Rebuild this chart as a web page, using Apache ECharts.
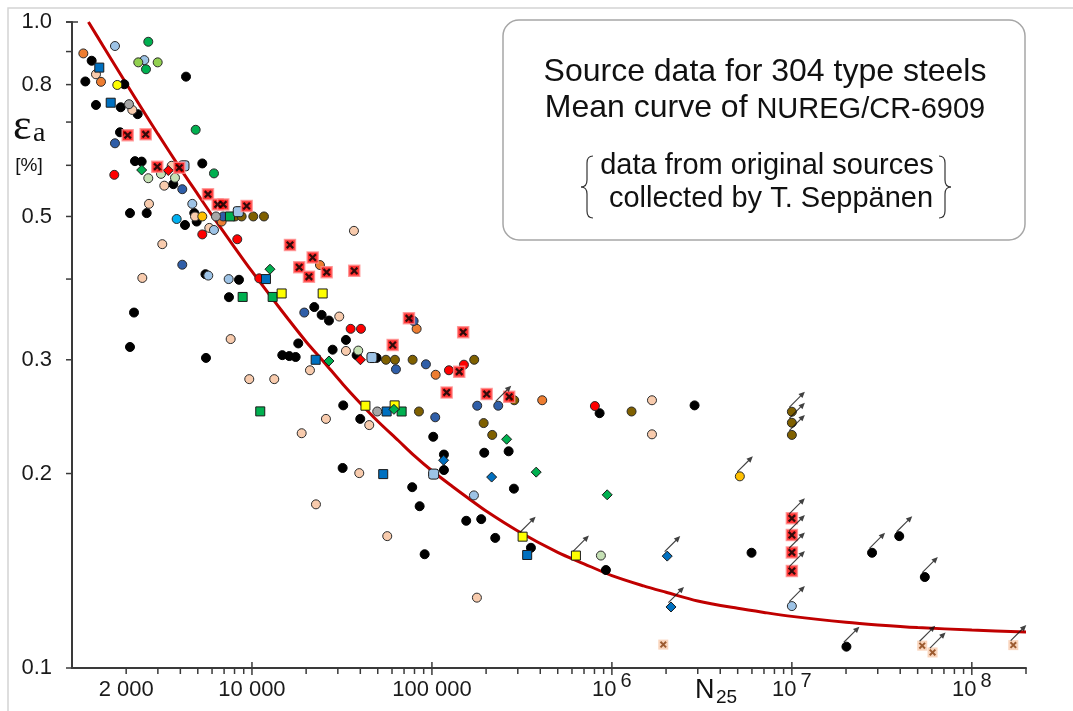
<!DOCTYPE html>
<html>
<head>
<meta charset="UTF-8">
<title>304 type steels - strain vs cycles</title>
<script src="https://cdn.jsdelivr.net/npm/echarts@6/dist/echarts.min.js"></script>
<style>html,body{margin:0;padding:0;background:#fff;}</style>
</head>
<body>
<div id="container" style="width:1073px;height:711px;"></div>
<script>
// [N25, strain amplitude %, runout flag]
var black = [[1286,0.871],[1186,0.809],[1952,0.801],[4300,0.823],[1359,0.744],[1865,0.738],[2317,0.720],[1848,0.675],
    [2239,0.609],[2439,0.608],[5296,0.604],[3655,0.561],[2100,0.506],[2600,0.506],[4245,0.485],[4780,0.506],[4930,0.491],
    [5517,0.407],[8470,0.399],[2211,0.355],[7450,0.375],[2100,0.314],[5552,0.302],[22190,0.362],[24390,0.352],[26780,0.345],
    [18080,0.318],[28070,0.311],[33280,0.322],[38170,0.305],[49290,0.302],[14740,0.305],[16120,0.304],[17490,0.303],
    [32150,0.255],[39970,0.243],[101700,0.228],[854500,0.248],[2880000,0.255],[116600,0.214],[116600,0.2025],[31900,0.204],
    [77700,0.1905],[85450,0.178],[91100,0.150],[155100,0.169],[187900,0.170],[224800,0.159],[285500,0.1895],[195300,0.2154],
    [266800,0.2165],[354800,0.1535],[926400,0.1418],[5970000,0.1508],
    [20100000,0.1079,1],[27900000,0.1508,1],[39500000,0.160,1],[54800000,0.1383,1]];
var peach = [[1359,0.830],[2163,0.731],[3257,0.558],[3580,0.599],[2678,0.523],[4825,0.500],[5792,0.480],[3175,0.453],
    [2459,0.4016],[7614,0.323],[9660,0.280],[36870,0.475],[30550,0.350],[33280,0.3096],[21000,0.289],[13300,0.280],
    [25770,0.243],[18890,0.2309],[44840,0.2377],[39460,0.2003],[22680,0.1792],[56450,0.160],[177800,0.1285],
    [1670000,0.2597],[1670000,0.230]];
var orange = [[1156,0.894],[1449,0.808],[6785,0.491],[23870,0.4205],[82220,0.335],[104900,0.2844],[410000,0.2597]];
var lightBlue = [[1733,0.918],[2522,0.873],[4660,0.523],[6151,0.4765],[5718,0.405],[7422,0.400],[171100,0.185],[10000000,0.1247,1]];
var darkBlue = [[1733,0.649],[4100,0.551],[4100,0.421],[19530,0.355],[63100,0.290],[79100,0.3445],[92600,0.2952],
    [104300,0.2444],[178500,0.2547],[233600,0.2547,1],[6926,0.500]];
var cyan = [[3816,0.4955]];
var red = [[1718,0.580],[5296,0.469],[8286,0.461],[10980,0.401],[35350,0.335],[40330,0.335],[124300,0.289],[150600,0.2948],[804500,0.2544]];
var yellow = [[1785,0.799]];
var gold = [[5296,0.500],[5140000,0.198,1]];
var green = [[2654,0.932],[2577,0.845],[4867,0.681],[6151,0.583]];
var lightGreen = [[2335,0.866],[2993,0.866]];
var paleGreen = [[2654,0.573],[3122,0.582],[3735,0.574],[38960,0.310],[868800,0.1493]];
var gray = [[2073,0.746],[6310,0.500],[49670,0.2495]];
var brown = [[8045,0.5],[8765,0.5],[10170,0.5],[11660,0.5],[55520,0.3],[62300,0.3],[78100,0.3],[171800,0.3],
    [286600,0.2597],[84700,0.2495],[193800,0.2394],[216300,0.2295],[1286000,0.2495],
    [10000000,0.2493,1],[10000000,0.2397,1],[10000000,0.2295,1]];
var blueSq = [[1418,0.850],[1641,0.750],[11960,0.400],[22590,0.300],[56020,0.2495],[53630,0.1996],[338300,0.1496]];
var greenSq = [[7546,0.5],[8877,0.3753],[13030,0.3753],[11120,0.2496],[67870,0.2495]];
var yellowSq = [[14620,0.380],[24710,0.380],[42710,0.2547],[62050,0.255],[319100,0.1597,1],[631000,0.1493,1]];
var lightBlueSq = [[4190,0.599],[8393,0.5086],[46420,0.3024],[102200,0.1996]];
var redCross = [[2039,0.668],[2567,0.670],[2978,0.597],[3946,0.595],[5695,0.541],[6449,0.522],[6926,0.522],[9345,0.519],
    [16260,0.4517],[21740,0.432],[18310,0.4172],[20730,0.4035],[26000,0.410],[37010,0.412],[60500,0.3162],[74500,0.3478],
    [149200,0.331],[141800,0.2875],[120700,0.267],[201400,0.2655],[268800,0.263],
    [10000000,0.1705,1],[10000000,0.1606,1],[10000000,0.151,1],[10000000,0.1413,1]];
var greenDia = [[2439,0.590],[12590,0.4143],[26780,0.2987],[61500,0.2514],[260000,0.226],[379700,0.201],[941700,0.1854]];
var blueDia = [[116100,0.2097],[214700,0.1975],[2030000,0.149,1],[2130000,0.1243,1]];
var redDia = [[3428,0.589],[40070,0.300]];
var peachCross = [[1930000,0.1087],[53000000,0.1083,1],[60500000,0.1057,1],[170000000,0.1085,1]];

// NUREG/CR-6909 mean curve
var curveN = [1234,1500,2000,2500,3000,4000,5000,6000,8000,10000,13000,16000,20000,25000,32000,40000,50000,65000,80000,
    100000,130000,160000,200000,300000,500000,700000,1000000,1500000,2000000,3000000,5000000,7000000,
    10000000,20000000,30000000,50000000,100000000,200000000];
var curveE = [1.0,0.915,0.803,0.727,0.671,0.593,0.541,0.502,0.448,0.411,0.373,0.346,0.320,0.298,0.275,0.257,0.241,0.225,0.213,
    0.202,0.191,0.183,0.175,0.163,0.151,0.145,0.139,0.134,0.131,0.127,0.1237,0.1219,
    0.1202,0.1177,0.1166,0.1155,0.1145,0.1137];

// axis ticks / labels
var xLabelValues = [2000, 10000, 100000, 1000000, 10000000, 100000000];
var xLabelTexts = ['{n|2 000}', '{n|10 000}', '{n|100 000}', '{b|10}{s|6}', '{b|10}{s|7}', '{b|10}{s|8}'];
var xMajorValues = [10000, 100000, 1000000, 10000000, 100000000];
var yTickValues = [0.1, 0.2, 0.3, 0.4, 0.5, 0.6, 0.7, 0.8, 0.9, 1.0];
var yLabelValues = [0.1, 0.2, 0.3, 0.5, 0.8, 1.0];

var xMinorValues = [];
for (var p = 1000; p < 2e8; p *= 10) {
    for (var k = 2; k < 10; k++) {
        if (p * k <= 2e8) xMinorValues.push(p * k);
    }
}

var FONT = '"Liberation Sans", Arial, sans-serif';
var AX = '#3a3a3a';
var X_MIN = 1000, X_MAX = 200000000, Y_MIN = 0.1, Y_MAX = 1.0;

function dots(data, color, symbol, size, border) {
    return {
        type: 'scatter', data: data, symbol: symbol || 'circle', symbolSize: size || 9, z: 3, silent: true,
        itemStyle: { color: color, borderColor: border || '#2a2a2a', borderWidth: 1, opacity: 1 }
    };
}

// tick marks drawn through the log axes (own layer so nothing hides them)
function tickSeries(values, before, after, onX) {
    return {
        type: 'custom', clip: false, z: 50, zlevel: 1, silent: true,
        data: values.map(function (v) { return onX ? [v, 0.5] : [2000, v]; }),
        renderItem: function (params, api) {
            var v = onX ? api.value(0) : api.value(1);
            var c = onX ? api.coord([v, Y_MIN]) : api.coord([X_MIN, v]);
            var shape = onX
                ? { x1: c[0], y1: c[1] - before, x2: c[0], y2: c[1] + after }
                : { x1: c[0] - after, y1: c[1], x2: c[0] + before, y2: c[1] };
            return { type: 'line', shape: shape, style: { stroke: AX, lineWidth: 1.5 } };
        }
    };
}

// curly brace made of quadratic curves; dir = 1 points left, -1 points right
function brace(x, top, bottom, dir) {
    var mid = (top + bottom) / 2, w = 6 * dir, st = { stroke: '#333', lineWidth: 1.2, fill: 'none' };
    var xs = x - w, xt = x - 2 * w;
    return [
        { type: 'bezierCurve', z: 10, shape: { x1: x, y1: top, cpx1: xs, cpy1: top, x2: xs, y2: top + 7 }, style: st },
        { type: 'line', z: 10, shape: { x1: xs, y1: top + 7, x2: xs, y2: mid - 7 }, style: st },
        { type: 'bezierCurve', z: 10, shape: { x1: xs, y1: mid - 7, cpx1: xs, cpy1: mid, x2: xt, y2: mid }, style: st },
        { type: 'bezierCurve', z: 10, shape: { x1: xt, y1: mid, cpx1: xs, cpy1: mid, x2: xs, y2: mid + 7 }, style: st },
        { type: 'line', z: 10, shape: { x1: xs, y1: mid + 7, x2: xs, y2: bottom - 7 }, style: st },
        { type: 'bezierCurve', z: 10, shape: { x1: xs, y1: bottom - 7, cpx1: xs, cpy1: bottom, x2: x, y2: bottom }, style: st }
    ];
}

var groups = [black, peach, orange, lightBlue, darkBlue, cyan, red, yellow, gold, green, lightGreen, paleGreen, gray,
    brown, blueSq, greenSq, yellowSq, lightBlueSq, redCross, greenDia, blueDia, redDia, peachCross];
var runouts = [];
groups.forEach(function (g) {
    g.forEach(function (pt) { if (pt[2] === 1) runouts.push([pt[0], pt[1]]); });
});

var curve = curveN.map(function (n, i) { return [n, curveE[i]]; });

var crossPath = 'path://M0,2 L2,0 L10,8 L8,10 Z M8,0 L10,2 L2,10 L0,8 Z';
var arrowPath = 'path://M0,19 L14,5 L12,3 L20,0 L17,8 L15,6 L1,20 Z';

var mycharts = echarts.init(document.getElementById('container'));

var graphics = [
    { type: 'polyline', shape: { points: [[8, 711], [8, 8], [1073, 8]] }, style: { fill: 'none', stroke: '#d4d4d4', lineWidth: 1.5 }, silent: true },
    { type: 'rect', shape: { x: 503, y: 20, width: 522, height: 220, r: 16 }, style: { fill: '#fff', stroke: '#a6a6a6', lineWidth: 1.5 }, z: 1, silent: true },
    { type: 'text', x: 765, y: 72, z: 10, style: { text: 'Source data for 304 type steels', fontSize: 32, fontFamily: FONT, fill: '#111', align: 'center', verticalAlign: 'middle' } },
    { type: 'text', x: 765, y: 108, z: 10, style: {
        text: '{a|Mean curve of }{b|NUREG/CR-6909}', align: 'center', verticalAlign: 'middle',
        rich: {
            a: { fontSize: 32, fontFamily: FONT, fill: '#111', verticalAlign: 'bottom' },
            b: { fontSize: 29, fontFamily: FONT, fill: '#111', verticalAlign: 'bottom' }
        } } },
    { type: 'text', x: 767, y: 166, z: 10, style: { text: 'data from original sources', fontSize: 29, fontFamily: FONT, fill: '#111', align: 'center', verticalAlign: 'middle' } },
    { type: 'text', x: 771, y: 199, z: 10, style: { text: 'collected by T. Seppänen', fontSize: 29, fontFamily: FONT, fill: '#111', align: 'center', verticalAlign: 'middle' } },
    { type: 'text', x: 13, y: 127, z: 10, style: { text: 'ε', fontSize: 44, fontFamily: '"Liberation Serif", "Times New Roman", serif', fill: '#111', align: 'left', verticalAlign: 'middle' } },
    { type: 'text', x: 33, y: 134, z: 10, style: { text: 'a', fontSize: 28, fontFamily: '"Liberation Serif", "Times New Roman", serif', fill: '#111', align: 'left', verticalAlign: 'middle' } },
    { type: 'text', x: 29, y: 166, z: 10, style: { text: '[%]', fontSize: 19, fontFamily: FONT, fill: '#111', align: 'center', verticalAlign: 'middle' } },
    { type: 'text', x: 695, y: 691, z: 10, style: { text: 'N', fontSize: 27, fontFamily: FONT, fill: '#111', align: 'left', verticalAlign: 'middle' } },
    { type: 'text', x: 716, y: 698, z: 10, style: { text: '25', fontSize: 19, fontFamily: FONT, fill: '#111', align: 'left', verticalAlign: 'middle' } }
].concat(brace(593, 156, 218, 1), brace(939, 156, 218, -1));

var option = {
    animation: false,
    backgroundColor: '#fff',
    grid: { left: 72, right: 47, top: 22, bottom: 43, containLabel: false, outerBoundsMode: 'none' },
    xAxis: {
        type: 'log', logBase: 10, min: X_MIN, max: X_MAX, position: 'bottom',
        axisLine: { show: true, onZero: false, lineStyle: { color: AX, width: 2 } },
        axisTick: { show: false },
        axisLabel: {
            show: true, customValues: xLabelValues, margin: 3, color: '#1a1a1a',
            formatter: function (v) {
                for (var i = 0; i < xLabelValues.length; i++) {
                    if (Math.abs(Math.log10(v) - Math.log10(xLabelValues[i])) < 1e-6) return xLabelTexts[i];
                }
                return '';
            },
            rich: {
                n: { fontSize: 22, fontFamily: FONT, color: '#1a1a1a', padding: [8, 0, 0, 0], verticalAlign: 'bottom' },
                b: { fontSize: 22, fontFamily: FONT, color: '#1a1a1a', padding: [8, 0, 0, 0], verticalAlign: 'bottom' },
                s: { fontSize: 20, fontFamily: FONT, color: '#1a1a1a', padding: [0, 0, 10, 4], verticalAlign: 'bottom' }
            }
        },
        splitLine: { show: false }, minorTick: { show: false }, minorSplitLine: { show: false }
    },
    yAxis: {
        type: 'log', logBase: 10, min: Y_MIN, max: Y_MAX,
        axisLine: { show: true, onZero: false, lineStyle: { color: AX, width: 2 } },
        axisTick: { show: false },
        axisLabel: {
            show: true, customValues: yLabelValues, margin: 20, fontSize: 22, fontFamily: FONT, color: '#1a1a1a',
            formatter: function (v) { return (+v).toFixed(1); }
        },
        splitLine: { show: false }, minorTick: { show: false }
    },
    graphic: graphics,
    series: [
        {
            type: 'line', data: curve, smooth: 0.3, symbol: 'none', z: 2, silent: true,
            lineStyle: { color: '#c00000', width: 3 }
        },
        dots(black, '#000000', 'circle', 9, '#000000'),
        dots(peach, '#f8cbad'),
        dots(orange, '#ed7d31'),
        dots(lightBlue, '#9dc3e6'),
        dots(darkBlue, '#2f5ea8'),
        dots(cyan, '#00b0f0'),
        dots(red, '#ff0000'),
        dots(yellow, '#ffff00'),
        dots(gold, '#ffc000'),
        dots(green, '#00b050'),
        dots(lightGreen, '#92d050'),
        dots(paleGreen, '#c5e0b4'),
        dots(gray, '#a6a6a6'),
        dots(brown, '#7f6000'),
        dots(blueSq, '#0070c0', 'rect', 9, '#1a1a1a'),
        dots(greenSq, '#00b050', 'rect', 9, '#1a1a1a'),
        dots(yellowSq, '#ffff00', 'rect', 9, '#1a1a1a'),
        dots(lightBlueSq, '#9dc3e6', 'roundRect', 10, '#1a1a1a'),
        dots(greenDia, '#00b050', 'diamond', 10, '#1a1a1a'),
        dots(blueDia, '#0070c0', 'diamond', 10, '#1a1a1a'),
        dots(redDia, '#ff0000', 'diamond', 10, '#1a1a1a'),
        {
            type: 'scatter', data: redCross, symbol: 'rect', symbolSize: 11, z: 3, silent: true,
            itemStyle: { color: '#ff0000', borderColor: '#ff8c8c', borderWidth: 1.5 }
        },
        {
            type: 'scatter', data: redCross, symbol: crossPath, symbolSize: 8, z: 4, silent: true,
            itemStyle: { color: '#000' }
        },
        {
            type: 'scatter', data: peachCross, symbol: 'rect', symbolSize: 10, z: 3, silent: true,
            itemStyle: { color: '#f8cbad' }
        },
        {
            type: 'scatter', data: peachCross, symbol: crossPath, symbolSize: 7, z: 4, silent: true,
            itemStyle: { color: '#843c0c' }
        },
        {
            type: 'scatter', data: runouts, symbol: arrowPath, symbolSize: 16, symbolOffset: [5, -12], z: 5, silent: true,
            itemStyle: { color: '#111' }
        },
        tickSeries(xMinorValues, 0, 6, true),
        tickSeries(xMajorValues, 6, 7, true),
        tickSeries(yTickValues, 0, 6, false),
        tickSeries([Y_MAX], 6, 6, false)
    ]
};

mycharts.setOption(option);
</script>
</body>
</html>
